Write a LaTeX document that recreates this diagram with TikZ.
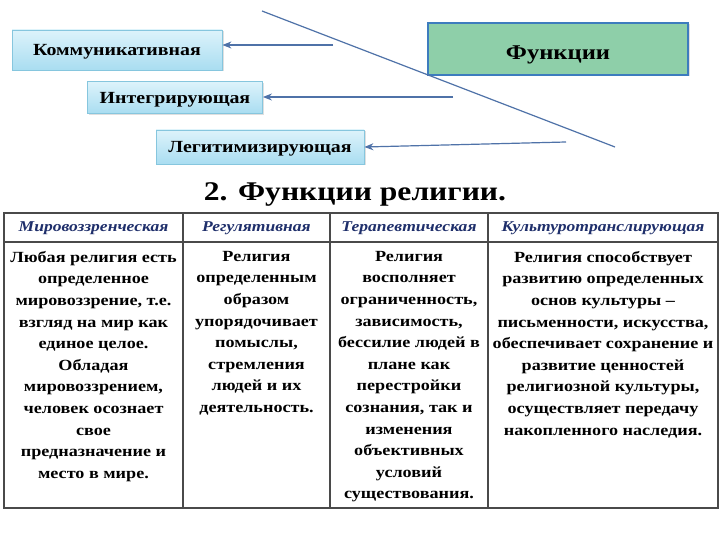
\documentclass[tikz,border=0pt]{standalone}
\usepackage{fontspec}
\setmainfont{Liberation Serif}[FakeStretch=1.17]
\usetikzlibrary{shadows,arrows.meta}
\definecolor{linkblue}{HTML}{4F72A8}
\definecolor{boxtop}{HTML}{DDF3FB}
\definecolor{boxbot}{HTML}{A9DDF1}
\definecolor{boxrim}{HTML}{86C6DE}
\definecolor{funcgreen}{HTML}{8ECFA9}
\definecolor{funcrim}{HTML}{3D7CBE}
\definecolor{headnavy}{HTML}{1F2F6B}
\definecolor{gridgray}{HTML}{4A4A4A}
\tikzset{
  kind/.style={draw=boxrim,line width=0.8pt,top color=boxtop,bottom color=boxbot,
    font=\fontsize{17}{20}\selectfont\bfseries,inner sep=0pt,text depth=0pt,
    drop shadow={opacity=0.25,shadow xshift=1.5pt,shadow yshift=-1.5pt}},
  head/.style={font=\fontsize{15}{18}\selectfont\bfseries\itshape,text=headnavy,inner sep=0pt},
  cell/.style={font=\fontsize{15.5}{21.6}\selectfont\bfseries,align=center,inner sep=0pt,anchor=north},
  link/.style={->,draw=linkblue,line width=1.2pt}
}
\begin{document}
\begin{tikzpicture}[x=1pt,y=-1pt,>={Stealth[length=9pt,width=7pt]}]
	\useasboundingbox[fill=white] (0,0) rectangle (720,540);
	% boxes
	\node[kind,minimum width=210,minimum height=40] (komm) at (117,50) {Коммуникативная};
	\node[kind,minimum width=175,minimum height=32] (integ) at (175,97.5) {Интегрирующая};
	\node[kind,minimum width=208,minimum height=34] (legit) at (260,147) {Легитимизирующая};
	\node[draw=funcrim,line width=1.2pt,fill=funcgreen,minimum width=260,minimum height=52,
		font=\fontsize{21}{24}\selectfont\bfseries,inner sep=0pt,text depth=0pt,
		text height=22pt,
		drop shadow={opacity=0.25,shadow xshift=1.5pt,shadow yshift=-1.5pt}] (func) at (558,49) {Функции};
	% arrows
	\coordinate (a1) at (333,45);
	\coordinate (a2) at (453,97);
	\coordinate (a3) at (566,142);
	\draw[link] (a1) -- (a1 -| komm.east);
	\draw[link] (a2) -- (a2 -| integ.east);
	\draw[link] (a3) -- (legit.east);
	\coordinate (d1) at (262,11);
	\coordinate (d2) at (615,147);
	\draw[linkblue,line width=1.2pt] (d1) -- (d2);
	% title
	\node[font=\fontsize{27}{30}\selectfont\bfseries,inner sep=0pt] (title) at (355,194) {2. Функции религии.};
	% table
	\draw[gridgray,line width=1.3pt] (4,213) rectangle (718,508);
	\draw[gridgray,line width=1.3pt] (4,242) -- (718,242);
	\foreach \cx in {183,330,488}
		\draw[gridgray,line width=1.3pt] (\cx,213) -- (\cx,508);
	\node[head] (h1) at (93.5,228) {Мировоззренческая};
	\node[head] (h2) at (256.5,228) {Регулятивная};
	\node[head] (h3) at (409,228) {Терапевтическая};
	\node[head] (h4) at (603,228) {Культуротранслирующая};
	\node[cell] (c1) at (93.5,251) {Любая религия есть\\определенное\\мировоззрение, т.е.\\взгляд на мир как\\единое целое.\\Обладая\\мировоззрением,\\человек осознает\\свое\\предназначение и\\место в мире.};
	\node[cell] (c2) at (256.5,251) {Религия\\определенным\\образом\\упорядочивает\\помыслы,\\стремления\\людей и их\\деятельность.};
	\node[cell] (c3) at (409,251) {Религия\\восполняет\\ограниченность,\\зависимость,\\бессилие людей в\\плане как\\перестройки\\сознания, так и\\изменения\\объективных\\условий\\существования.};
	\node[cell] (c4) at (603,251) {Религия способствует\\развитию определенных\\основ культуры --\\письменности, искусства,\\обеспечивает сохранение и\\развитие ценностей\\религиозной культуры,\\осуществляет передачу\\накопленного наследия.};
\end{tikzpicture}
\end{document}
